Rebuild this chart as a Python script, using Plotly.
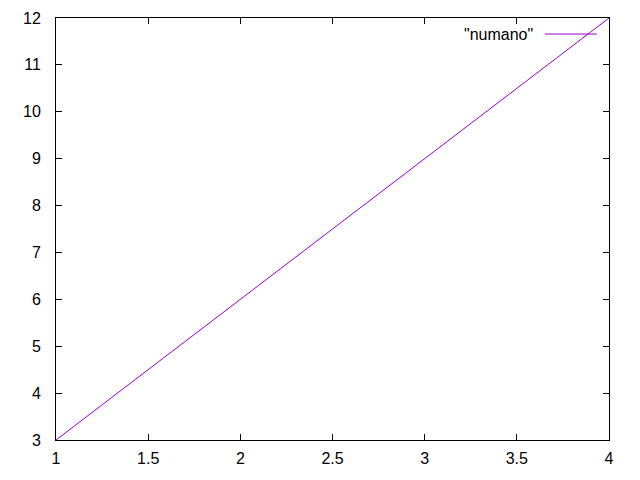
import plotly.graph_objects as go

x_vals = [1, 2, 3, 4]
y_vals = [3, 6, 9, 12]
series_name = '"numano"'

FONT = "Liberation Sans, Arial"

fig = go.Figure()
fig.add_trace(go.Scatter(x=x_vals, y=y_vals, mode="lines",
                         line=dict(color="#9400D3", width=1), showlegend=False))

fig.add_annotation(x=0.866, y=0.962, xref="paper", yref="paper", text=series_name,
                   showarrow=False, xanchor="right", yanchor="middle",
                   font=dict(family=FONT, size=16, color="black"))
fig.add_shape(type="line", xref="paper", yref="paper", x0=0.884, x1=0.978,
              y0=0.962, y1=0.962, line=dict(color="#9400D3", width=1))

axis_common = dict(showgrid=False, zeroline=False, showline=True, linecolor="black",
                   linewidth=1, mirror="allticks", ticks="inside", ticklen=6,
                   tickcolor="black", automargin=False,
                   tickfont=dict(family=FONT, size=16, color="black"))
fig.update_xaxes(range=[1, 4], dtick=0.5, ticklabelstandoff=4, **axis_common)
fig.update_yaxes(range=[3, 12], dtick=1, ticklabelstandoff=11, **axis_common)

fig.update_layout(width=632, height=472,
                  margin=dict(l=48, r=31, t=10, b=40, autoexpand=False),
                  plot_bgcolor="white", paper_bgcolor="white")
fig.write_html("out.html")
